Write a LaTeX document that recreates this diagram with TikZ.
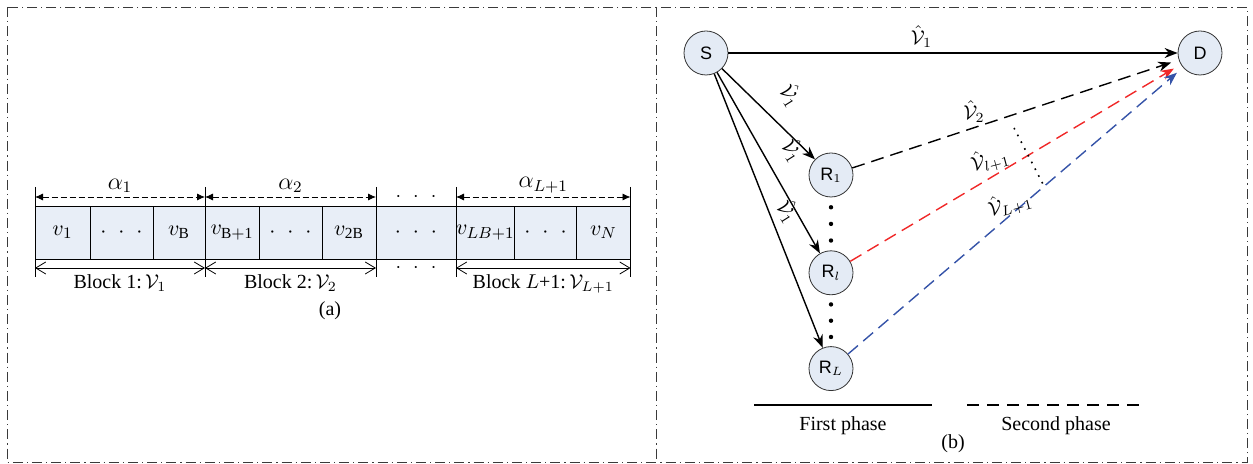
\documentclass[tikz,border=0pt]{standalone}
\usepackage{amsmath, amssymb}
\usepackage{fontspec}
\setmainfont{Liberation Serif}
\newfontfamily\nodefont{Liberation Sans}
\usepackage{tikz}
\usetikzlibrary{positioning, arrows.meta, calc}
\definecolor{framegray}{HTML}{3A3A3A}
\definecolor{cellbg}{HTML}{E8EEF7}
\definecolor{nodebg}{HTML}{E4EBF5}
\definecolor{relayred}{HTML}{F02828}
\definecolor{relayblue}{HTML}{3553A8}
\newcommand{\dotrow}{${\cdot}\hspace{6pt}{\cdot}\hspace{6pt}{\cdot}$}
\tikzset{
  cell/.style={
    draw, fill=cellbg,
    outer sep=0pt, inner sep=0pt,
    minimum height=26.5pt,
    font=\fontsize{11}{13}\selectfont
  },
  tick/.style={thin},
  width arrow/.style={
    dash pattern=on 3pt off 1.5pt,
    {Latex[length=4pt,width=3.5pt]}-{Latex[length=4pt,width=3.5pt]}
  },
  block arrow/.style={
    thin,
    {Straight Barb[length=5pt,width=6pt]}-{Straight Barb[length=5pt,width=6pt]}
  },
  terminal/.style={
    circle, draw=black!80, thin, fill=nodebg,
    minimum size=22pt, inner sep=0pt,
    font=\nodefont\small
  },
  first phase/.style={-{Stealth[length=6.5pt,width=5pt]}, line width=0.7pt},
  second phase/.style={
    -{Stealth[length=6.5pt,width=5pt]}, line width=0.7pt,
    dash pattern=on 6.5pt off 3.5pt, shorten >=4pt
  },
  frame/.style={draw=framegray, thin, dash pattern=on 5pt off 2pt on 0.6pt off 2pt}
}

\begin{document}
\begin{tikzpicture}[x=0.5pt, y=-0.5pt]
  \useasboundingbox (0,0) rectangle (1253,464);
  \draw[frame] (7,7) rectangle (1247,462);
  \draw[frame] (656,7) -- (656,462);

  % (a) blocks of the codeword
  \node[cell, anchor=west, minimum width=27.5pt] (c1) at (35,232.5) {$v_1$};
  \node[cell, right=0pt of c1, minimum width=31.5pt] (c2) {\dotrow};
  \node[cell, right=0pt of c2, minimum width=26pt] (c3) {$v_{\mathrm{B}}$};
  \node[cell, right=0pt of c3, minimum width=27pt] (c4) {$v_{\mathrm{B+1}}$};
  \node[cell, right=0pt of c4, minimum width=31.5pt] (c5) {\dotrow};
  \node[cell, right=0pt of c5, minimum width=27pt] (c6) {$v_{\mathrm{2B}}$};
  \node[cell, right=0pt of c6, minimum width=40pt] (c7) {\dotrow};
  \node[cell, right=0pt of c7, minimum width=27pt] (c8) {$v_{LB+1}$};
  \node[cell, right=0pt of c8, minimum width=31pt] (c9) {\dotrow};
  \node[cell, right=0pt of c9, minimum width=27pt] (c10) {$v_N$};

  \foreach \n/\s in {c1/west, c4/west, c7/west, c8/west, c10/east}
    \draw[tick] (\n.north \s) ++(0,-19) -- ++(0,90);

  \draw[width arrow] ([yshift=4.5pt]c1.north west) -- ([yshift=4.5pt]c3.north east)
    node[midway, above=-1.5pt, font=\large] {$\alpha_1$};
  \draw[width arrow] ([yshift=4.5pt]c4.north west) -- ([yshift=4.5pt]c6.north east)
    node[midway, above=-1.5pt, font=\large] {$\alpha_2$};
  \draw[width arrow] ([yshift=4.5pt]c8.north west) -- ([yshift=4.5pt]c10.north east)
    node[midway, above=-1.5pt, font=\large] {$\alpha_{L+1}$};
  \node (topdots) at ([yshift=4.5pt]c7.north) {\dotrow};

  \draw[block arrow] ([yshift=-4.5pt]c1.south west) -- ([yshift=-4.5pt]c3.south east)
    node[midway, below=0pt] {Block 1:\,$\mathcal{V}_1$};
  \draw[block arrow] ([yshift=-4.5pt]c4.south west) -- ([yshift=-4.5pt]c6.south east)
    node[midway, below=0pt] {Block 2:\,$\mathcal{V}_2$};
  \draw[block arrow] ([yshift=-4.5pt]c8.south west) -- ([yshift=-4.5pt]c10.south east)
    node[midway, below=0pt] {Block $L$+1:\,$\mathcal{V}_{L+1}$};
  \node (botdots) at ([yshift=-4.5pt]c7.south) {\dotrow};
  \node (capa) at (330,311) {(a)};

  % (b) relaying network
  \node[terminal] (S) at (706,53) {S};
  \node[terminal] (D) at (1200,53) {D};
  \node[terminal] (R1) at (831,175) {R$_1$};
  \node[terminal, below=26.5pt of R1] (Rl) {R$_l$};
  \node[terminal, below=25.5pt of Rl] (RL) {R$_L$};
  \foreach \f in {0.33,0.5,0.67} {
    \fill ($(R1)!\f!(Rl)$) circle (1.1pt);
    \fill ($(Rl)!\f!(RL)$) circle (1.1pt);
  }

  \draw[first phase] (S) -- (D) node[pos=0.43, above=-1pt] {$\hat{\mathcal{V}}_1$};
  \draw[first phase] (S) -- (R1);
  \draw[first phase] (S) -- (Rl);
  \draw[first phase] (S) -- (RL);
  \node[rotate=-58, inner sep=1pt] (s1) at (791,95) {$\hat{\mathcal{V}}_1$};
  \node[rotate=-58, inner sep=1pt] (s2) at (793,150) {$\hat{\mathcal{V}}_1$};
  \node[rotate=-58, inner sep=1pt] (s3) at (788,211) {$\hat{\mathcal{V}}_1$};

  \draw[second phase] (R1) -- (D);
  \draw[second phase, relayred] (Rl) -- (D);
  \draw[second phase, relayblue] (RL) -- (D);
  \node (d2) at (974,112) {$\hat{\mathcal{V}}_2$};
  \node[rotate=15, inner sep=1pt] (dl) at (990,160) {$\hat{\mathcal{V}}_{l+1}$};
  \node[rotate=15, inner sep=1pt] (dL) at (1010,204) {$\hat{\mathcal{V}}_{L+1}$};
  \coordinate (gapt) at (1014,128);
  \coordinate (gapb) at (1044,186);
  \draw[dash pattern=on 0.8pt off 3pt, line width=0.8pt] (gapt) -- (gapb);

  % legend
  \coordinate (fp0) at (754,405);
  \coordinate (fp1) at (932,405);
  \coordinate (sp0) at (967,405);
  \coordinate (sp1) at (1145,405);
  \draw[line width=0.7pt] (fp0) -- (fp1) node[midway, below=2pt] {First phase};
  \draw[line width=0.7pt, dash pattern=on 6pt off 4pt] (sp0) -- (sp1)
    node[midway, below=2pt] {Second phase};
  \node (capb) at (953,444) {(b)};
\end{tikzpicture}
\end{document}
